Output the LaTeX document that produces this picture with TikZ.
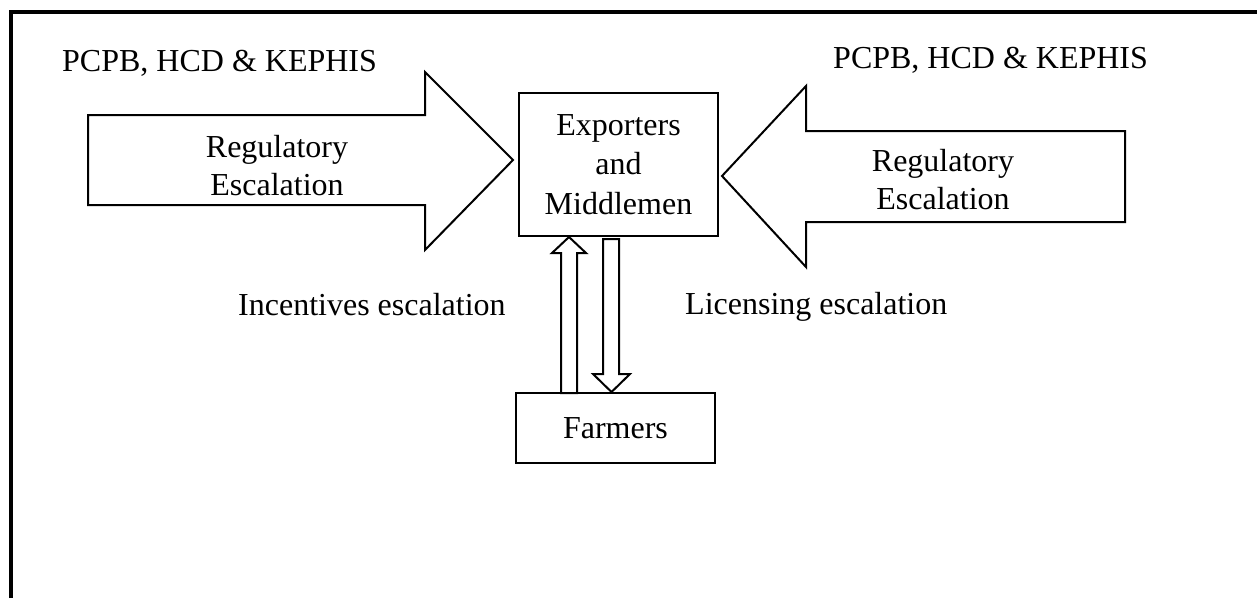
\documentclass[tikz,border=0pt]{standalone}
\usepackage{fontspec}
\setmainfont{Liberation Serif}
\begin{document}
\begin{tikzpicture}[x=1pt,y=-1pt,line join=miter,
  txt/.style={font=\fontsize{32}{38}\selectfont,inner sep=0pt},
  mlt/.style={txt,align=center},
  box/.style={draw,line width=2pt,inner sep=0pt},
  blk/.style={draw,line width=2pt,fill=white}]
\useasboundingbox (0,0) rectangle (1257,598);
% frame
\draw[line width=4pt] (11,598) -- (11,12) -- (1257,12);
% central boxes
\node[box,minimum width=199pt,minimum height=143pt,
  font=\fontsize{32}{39.5}\selectfont,align=center] (exp) at (618.5,164.5)
  {Exporters\\and\\Middlemen};
\node[box,minimum width=199pt,minimum height=70pt,txt] (farm) at (615.5,428)
  {Farmers};
% big arrows
\draw[blk] (88,115) -- (425,115) -- (425,72) -- (513,160) -- (425,250)
  -- (425,205) -- (88,205) -- cycle;
\draw[blk] (1125,131) -- (806,131) -- (806,86) -- (722,176) -- (806,267)
  -- (806,222) -- (1125,222) -- cycle;
\node[mlt] (regL) at (277,165.5) {Regulatory\\Escalation};
\node[mlt] (regR) at (943,179.5) {Regulatory\\Escalation};
% small arrows between farmers and exporters
\coordinate (upTip) at (569,237);
\coordinate (dnTip) at (611.5,392);
\draw[blk] (561,393) -- (561,253) -- (552,253) -- (upTip) -- (586,253)
  -- (577,253) -- (577,393) -- cycle;
\draw[blk] (603,239) -- (603,374) -- (593,374) -- (dnTip) -- (630,374)
  -- (619,374) -- (619,239) -- cycle;
% labels
\node[txt,anchor=base west] (pL) at (62,71) {PCPB, HCD \& KEPHIS};
\node[txt,anchor=base west] (pR) at (833,68) {PCPB, HCD \& KEPHIS};
\node[txt,anchor=base west] (inc) at (238,315) {Incentives escalation};
\node[txt,anchor=base west] (lic) at (685,314) {Licensing escalation};
\end{tikzpicture}
\end{document}
